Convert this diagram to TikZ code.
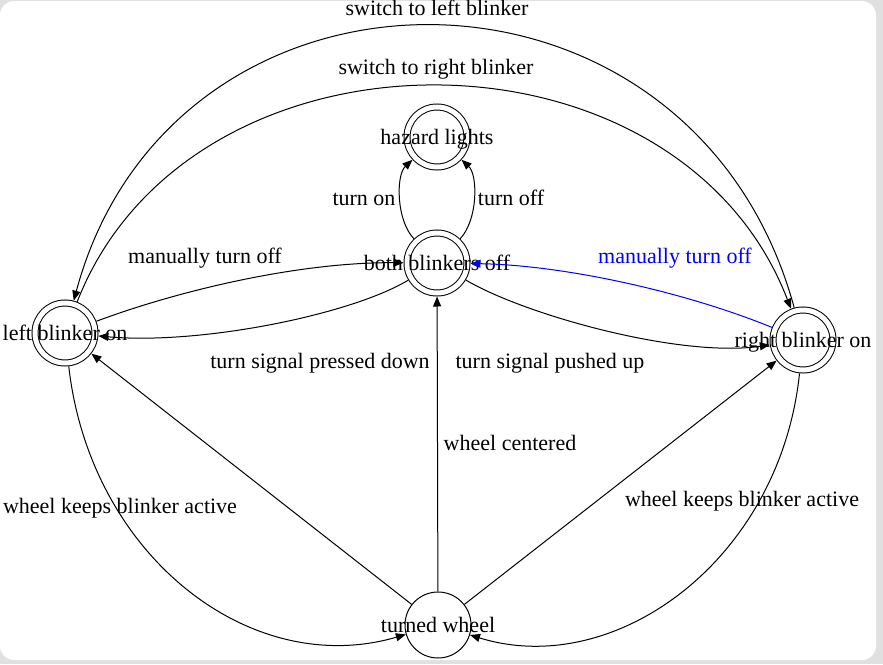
\documentclass[tikz,border=0pt]{standalone}
\usepackage{fontspec}
\setmainfont{Liberation Serif}
\usetikzlibrary{arrows.meta}
\definecolor{panelgray}{RGB}{224,224,224}

\tikzset{
	every node/.style={font=\fontsize{11}{13}\selectfont},
	blinkstate/.style={circle, draw, double, double distance=2.5pt, line width=0.5pt, minimum size=30pt, inner sep=0pt, outer sep=1.75pt},
	wheelstate/.style={circle, draw, line width=0.5pt, minimum size=33pt, inner sep=0pt, outer sep=0.25pt},
	every label/.style={text height=1.5ex, text depth=0.25ex, inner sep=0pt, yshift=-1pt},
	trans/.style={line width=0.5pt, -{Triangle[length=5pt, width=4pt]}},
	lbl/.style={anchor=base, inner sep=0pt}
}

\begin{document}
\begin{tikzpicture}[x=0.5pt, y=-0.5pt]
			\useasboundingbox (0,0) rectangle (883,664);
			\fill[panelgray] (0,0) rectangle (883,664);
			\fill[white, rounded corners=7pt] (0,1) rectangle (876,660);
			
			\node[blinkstate, label=center:{hazard lights}] (hazard) at (437,137) {};
			\node[blinkstate, label=center:{both blinkers off}] (off) at (437,263) {};
			\node[blinkstate, label=center:{left blinker on}] (lefton) at (65,333) {};
			\node[blinkstate, label=center:{right blinker on}] (righton) at (803,340) {};
			\node[wheelstate, label=center:{turned wheel}] (wheel) at (438,625) {};
			
			\begin{scope}[trans]
			\draw (off) .. controls (396,220) and (396,175) .. (hazard);
			\draw (off) .. controls (478,220) and (478,175) .. (hazard);
			\draw (lefton) .. controls (180,290) and (300,262) .. (off);
			\draw (off) .. controls (350,315) and (200,345) .. (lefton);
			\draw[blue] (righton) .. controls (680,290) and (560,265) .. (off);
			\draw (off) .. controls (525,315) and (680,358) .. (righton);
			\draw (righton) .. controls (692,-67) and (173,-67) .. (lefton);
			\draw (lefton) .. controls (190,13) and (677,13) .. (righton);
			\draw (wheel) -- (off);
			\draw (wheel) -- (lefton);
			\draw (wheel) -- (righton);
			\draw (lefton) .. controls (90,555) and (250,680) .. (wheel);
			\draw (righton) .. controls (780,560) and (615,680) .. (wheel);
			\end{scope}
			
			\node[lbl] (swleft) at (437,15) {switch to left blinker};
			\node[lbl] (swright) at (436,74) {switch to right blinker};
			\node[lbl] (turnon) at (364,205) {turn on};
			\node[lbl] (turnoff) at (511,205) {turn off};
			\node[lbl] (manleft) at (205,263) {manually turn off};
			\node[lbl, blue] (manright) at (675,263) {manually turn off};
			\node[lbl] (pressed) at (320,368) {turn signal pressed down};
			\node[lbl] (pushed) at (550,368) {turn signal pushed up};
			\node[lbl] (centered) at (510,450) {wheel centered};
			\node[lbl] (keepleft) at (120,513) {wheel keeps blinker active};
			\node[lbl] (keepright) at (742,506) {wheel keeps blinker active};
		\end{tikzpicture}
\end{document}
